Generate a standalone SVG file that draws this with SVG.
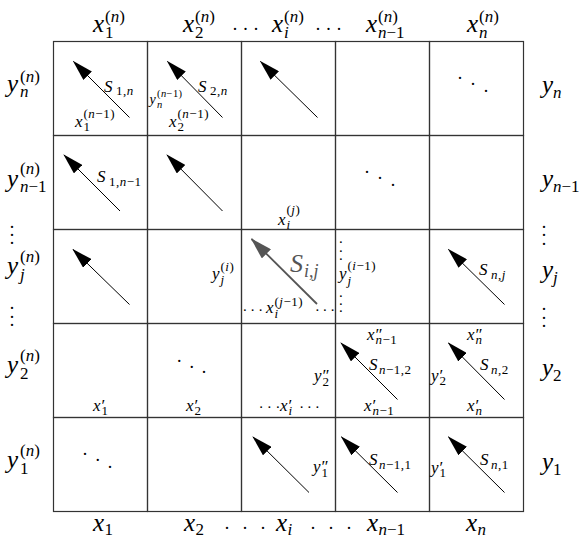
<svg xmlns="http://www.w3.org/2000/svg" width="584" height="539" viewBox="0 0 584 539" font-family="Liberation Serif, Times New Roman, serif">
<style>
text{fill:#000;font-family:"Liberation Serif","Times New Roman",serif}
.i{font-style:italic}
.M{font-size:25px}
.Ms{font-size:17px}
.C{font-size:17px}
.Cs{font-size:13px;letter-spacing:0.5px}
.Ct{font-size:14px}
.Cts{font-size:10.5px;letter-spacing:0.4px}
.B{font-size:26px;fill:#555}
.Bs{font-size:18px;fill:#555}
.d{font-size:18px}
.ds{font-size:15px}
.cell{fill:none;stroke:#333;stroke-width:1.2}
.arr{stroke:#000;stroke-width:1;fill:none;marker-end:url(#ah)}
.arrg{stroke:#555;stroke-width:1.8;fill:none;marker-end:url(#ahg)}
</style>
<defs>
<marker id="ah" markerUnits="userSpaceOnUse" viewBox="0 0 21 12" refX="20" refY="6" markerWidth="21" markerHeight="12" orient="auto"><path d="M0,0 L21,6 L0,12 Z" fill="#000"/></marker>
<marker id="ahg" markerUnits="userSpaceOnUse" viewBox="0 0 22 13" refX="21" refY="6.5" markerWidth="22" markerHeight="13" orient="auto"><path d="M0,0 L22,6.5 L0,13 Z" fill="#555"/></marker>
</defs>

<g id="col-labels-top">
<text class="M"><tspan class="i" x="93" y="32">x</tspan><tspan class="Ms" x="105" y="22">(<tspan class="i">n</tspan>)</tspan><tspan class="Ms" x="105" y="38">1</tspan></text>
<text class="M"><tspan class="i" x="183" y="32">x</tspan><tspan class="Ms" x="195" y="22">(<tspan class="i">n</tspan>)</tspan><tspan class="Ms" x="195" y="38">2</tspan></text>
<text class="d" x="232.75 243.25 253.75" y="29.8">...</text>
<text class="M"><tspan class="i" x="272" y="32">x</tspan><tspan class="Ms" x="284" y="22">(<tspan class="i">n</tspan>)</tspan><tspan class="Ms i" x="284" y="38">i</tspan></text>
<text class="d" x="315.75 326.25 336.75" y="29.8">...</text>
<text class="M"><tspan class="i" x="366" y="32">x</tspan><tspan class="Ms" x="378" y="22">(<tspan class="i">n</tspan>)</tspan><tspan class="Ms" x="378" y="38"><tspan class="i">n</tspan>−1</tspan></text>
<text class="M"><tspan class="i" x="467" y="32">x</tspan><tspan class="Ms" x="479" y="22">(<tspan class="i">n</tspan>)</tspan><tspan class="Ms i" x="479" y="38">n</tspan></text>
</g>

<g id="row-labels-left">
<text class="M"><tspan class="i" x="7" y="92">y</tspan><tspan class="Ms" x="20" y="82">(<tspan class="i">n</tspan>)</tspan><tspan class="Ms i" x="20" y="97">n</tspan></text>
<text class="M"><tspan class="i" x="7" y="187">y</tspan><tspan class="Ms" x="20" y="174">(<tspan class="i">n</tspan>)</tspan><tspan class="Ms" x="20" y="192"><tspan class="i">n</tspan>−1</tspan></text>
<text class="d" x="9.75 9.75 9.75" y="227.8 235.8 243.8">...</text>
<text class="M"><tspan class="i" x="7" y="274">y</tspan><tspan class="Ms" x="20" y="262">(<tspan class="i">n</tspan>)</tspan><tspan class="Ms i" x="20" y="280">j</tspan></text>
<text class="d" x="9.75 9.75 9.75" y="308.8 317.8 325.8">...</text>
<text class="M"><tspan class="i" x="7" y="373">y</tspan><tspan class="Ms" x="20" y="361">(<tspan class="i">n</tspan>)</tspan><tspan class="Ms" x="20" y="379">2</tspan></text>
<text class="M"><tspan class="i" x="7" y="468">y</tspan><tspan class="Ms" x="20" y="456">(<tspan class="i">n</tspan>)</tspan><tspan class="Ms" x="20" y="474">1</tspan></text>
</g>

<g id="row-labels-right">
<text class="M"><tspan class="i" x="542" y="93">y</tspan><tspan class="Ms i" x="553" y="98">n</tspan></text>
<text class="M"><tspan class="i" x="542" y="187">y</tspan><tspan class="Ms" x="553" y="192"><tspan class="i">n</tspan>−1</tspan></text>
<text class="d" x="541.75 541.75 541.75" y="227.8 235.8 244.8">...</text>
<text class="M"><tspan class="i" x="542" y="278">y</tspan><tspan class="Ms i" x="553" y="283">j</tspan></text>
<text class="d" x="541.75 541.75 541.75" y="309.8 318.8 326.8">...</text>
<text class="M"><tspan class="i" x="542" y="376">y</tspan><tspan class="Ms" x="553" y="381">2</tspan></text>
<text class="M"><tspan class="i" x="542" y="470">y</tspan><tspan class="Ms" x="553" y="475">1</tspan></text>
</g>

<g id="col-labels-bottom">
<text class="M"><tspan class="i" x="93" y="531">x</tspan><tspan class="Ms" x="104.5" y="535">1</tspan></text>
<text class="M"><tspan class="i" x="184" y="531">x</tspan><tspan class="Ms" x="195.5" y="535">2</tspan></text>
<text class="d" x="224.75 242.75 260.75" y="528.8">...</text>
<text class="M"><tspan class="i" x="276" y="531">x</tspan><tspan class="Ms i" x="287.5" y="535">i</tspan></text>
<text class="d" x="310.75 328.75 346.75" y="528.8">...</text>
<text class="M"><tspan class="i" x="367" y="531">x</tspan><tspan class="Ms" x="378.5" y="535"><tspan class="i">n</tspan>−1</tspan></text>
<text class="M"><tspan class="i" x="466" y="531">x</tspan><tspan class="Ms i" x="477.5" y="535">n</tspan></text>
</g>

<!-- row 1 (y_n) -->
<g id="cell-1-n">
<rect class="cell" x="53.5" y="41.5" width="94" height="94"/>
<text class="C"><tspan class="i" x="104" y="92">S</tspan><tspan class="Cs" x="116" y="95">1,<tspan class="i">n</tspan></tspan></text>
<text class="C"><tspan class="i" x="75" y="127">x</tspan><tspan class="Cs" x="83.5" y="118">(<tspan class="i">n</tspan>−1)</tspan><tspan class="Cs" x="83.5" y="131">1</tspan></text>
</g>
<g id="cell-2-n">
<rect class="cell" x="147.5" y="41.5" width="94" height="94"/>
<text class="C"><tspan class="i" x="198" y="92">S</tspan><tspan class="Cs" x="210" y="95">2,<tspan class="i">n</tspan></tspan></text>
<text class="Ct"><tspan class="i" x="149.5" y="104">y</tspan><tspan class="Cts" x="157" y="97">(<tspan class="i">n</tspan>−1)</tspan><tspan class="Cts i" x="157" y="108">n</tspan></text>
<text class="C"><tspan class="i" x="169" y="127">x</tspan><tspan class="Cs" x="177.5" y="118">(<tspan class="i">n</tspan>−1)</tspan><tspan class="Cs" x="177.5" y="131">2</tspan></text>
</g>
<g id="cell-i-n"><rect class="cell" x="241.5" y="41.5" width="94" height="94"/></g>
<g id="cell-n1-n"><rect class="cell" x="335.5" y="41.5" width="94" height="94"/></g>
<g id="cell-n-n">
<rect class="cell" x="429.5" y="41.5" width="94" height="94"/>
<text class="d" x="457.75 470.75 483.75" y="78.8 84.8 91.8">...</text>
</g>

<!-- row 2 (y_{n-1}) -->
<g id="cell-1-n1">
<rect class="cell" x="53.5" y="135.5" width="94" height="94"/>
<text class="C"><tspan class="i" x="97" y="182">S</tspan><tspan class="Cs" x="109" y="186">1,<tspan class="i">n</tspan>−1</tspan></text>
</g>
<g id="cell-2-n1"><rect class="cell" x="147.5" y="135.5" width="94" height="94"/></g>
<g id="cell-i-n1">
<rect class="cell" x="241.5" y="135.5" width="94" height="94"/>
<text class="C"><tspan class="i" x="278" y="225">x</tspan><tspan class="Cs" x="286.5" y="214">(<tspan class="i">j</tspan>)</tspan><tspan class="Cs i" x="286.5" y="229">i</tspan></text>
</g>
<g id="cell-n1-n1">
<rect class="cell" x="335.5" y="135.5" width="94" height="94"/>
<text class="d" x="364.75 377.75 390.75" y="172.8 179.3 185.8">...</text>
</g>
<g id="cell-n-n1"><rect class="cell" x="429.5" y="135.5" width="94" height="94"/></g>

<!-- row 3 (y_j) -->
<g id="cell-1-j"><rect class="cell" x="53.5" y="229.5" width="94" height="94"/></g>
<g id="cell-2-j">
<rect class="cell" x="147.5" y="229.5" width="94" height="94"/>
<text class="C"><tspan class="i" x="212" y="279">y</tspan><tspan class="Cs" x="220.5" y="271">(<tspan class="i">i</tspan>)</tspan><tspan class="Cs i" x="220.5" y="284">j</tspan></text>
</g>
<g id="cell-i-j">
<rect class="cell" x="241.5" y="229.5" width="94" height="94"/>
<text class="B"><tspan class="i" x="290" y="272">S</tspan><tspan class="Bs" x="304" y="277"><tspan class="i">i</tspan>,<tspan class="i">j</tspan></tspan></text>
<text class="ds" x="243.1 250.8 258.8" y="311.4">...</text>
<text class="C"><tspan class="i" x="266" y="313">x</tspan><tspan class="Cs" x="274.5" y="306">(<tspan class="i">j</tspan>−1)</tspan><tspan class="Cs i" x="274.5" y="318">i</tspan></text>
<text class="ds" x="315.4 323.1 330.8" y="311.4">...</text>
<text class="ds" x="339.1 339.1 339.1 339.1 339.1 339.1" y="243.4 251.7 260 297.4 304.7 312.4">......</text>
<text class="C"><tspan class="i" x="339" y="279">y</tspan><tspan class="Cs" x="347.5" y="270">(<tspan class="i">i</tspan>−1)</tspan><tspan class="Cs i" x="347.5" y="285">j</tspan></text>
</g>
<g id="cell-n1-j"><rect class="cell" x="335.5" y="229.5" width="94" height="94"/></g>
<g id="cell-n-j">
<rect class="cell" x="429.5" y="229.5" width="94" height="94"/>
<text class="C"><tspan class="i" x="479" y="275">S</tspan><tspan class="Cs" x="491" y="279"><tspan class="i">n</tspan>,<tspan class="i">j</tspan></tspan></text>
</g>

<!-- row 4 (y_2) -->
<g id="cell-1-2">
<rect class="cell" x="53.5" y="323.5" width="94" height="94"/>
<text class="C"><tspan class="i" x="93" y="411">x</tspan><tspan x="101.5" y="411">′</tspan><tspan class="Cs" x="101.5" y="415">1</tspan></text>
</g>
<g id="cell-2-2">
<rect class="cell" x="147.5" y="323.5" width="94" height="94"/>
<text class="d" x="177 189.5 201.75" y="361.5 367.5 373.1">...</text>
<text class="C"><tspan class="i" x="186" y="411">x</tspan><tspan x="194.5" y="411">′</tspan><tspan class="Cs" x="194.5" y="415">2</tspan></text>
</g>
<g id="cell-i-2">
<rect class="cell" x="241.5" y="323.5" width="94" height="94"/>
<text class="ds" x="259.3 267.6 275.9" y="408">...</text>
<text class="C"><tspan class="i" x="280" y="411">x</tspan><tspan x="288.5" y="411">′</tspan><tspan class="Cs i" x="288.5" y="415">i</tspan></text>
<text class="ds" x="299.8 307.4 315.4" y="407.7">...</text>
<text class="C"><tspan class="i" x="314" y="381">y</tspan><tspan x="322.5" y="381">″</tspan><tspan class="Cs" x="322.5" y="386">2</tspan></text>
</g>
<g id="cell-n1-2">
<rect class="cell" x="335.5" y="323.5" width="94" height="94"/>
<text class="C"><tspan class="i" x="367" y="340">x</tspan><tspan x="375.5" y="340">″</tspan><tspan class="Cs" x="375.5" y="344"><tspan class="i">n</tspan>−1</tspan></text>
<text class="C"><tspan class="i" x="369" y="370">S</tspan><tspan class="Cs" x="379" y="374"><tspan class="i">n</tspan>−1,2</tspan></text>
<text class="C"><tspan class="i" x="364" y="411">x</tspan><tspan x="372.5" y="411">′</tspan><tspan class="Cs" x="372.5" y="415"><tspan class="i">n</tspan>−1</tspan></text>
</g>
<g id="cell-n-2">
<rect class="cell" x="429.5" y="323.5" width="94" height="94"/>
<text class="C"><tspan class="i" x="431" y="381">y</tspan><tspan x="439.5" y="381">′</tspan><tspan class="Cs" x="439.5" y="385">2</tspan></text>
<text class="C"><tspan class="i" x="467" y="340">x</tspan><tspan x="475.5" y="340">″</tspan><tspan class="Cs i" x="475.5" y="344">n</tspan></text>
<text class="C"><tspan class="i" x="480" y="370">S</tspan><tspan class="Cs" x="491" y="374"><tspan class="i">n</tspan>,2</tspan></text>
<text class="C"><tspan class="i" x="467" y="411">x</tspan><tspan x="475.5" y="411">′</tspan><tspan class="Cs i" x="475.5" y="415">n</tspan></text>
</g>

<!-- row 5 (y_1) -->
<g id="cell-1-1">
<rect class="cell" x="53.5" y="417.5" width="94" height="94"/>
<text class="d" x="82.75 95.5 107.75" y="454.8 461.1 467.5">...</text>
</g>
<g id="cell-2-1"><rect class="cell" x="147.5" y="417.5" width="94" height="94"/></g>
<g id="cell-i-1">
<rect class="cell" x="241.5" y="417.5" width="94" height="94"/>
<text class="C"><tspan class="i" x="313" y="472">y</tspan><tspan x="321.5" y="472">″</tspan><tspan class="Cs" x="321.5" y="477">1</tspan></text>
</g>
<g id="cell-n1-1">
<rect class="cell" x="335.5" y="417.5" width="94" height="94"/>
<text class="C"><tspan class="i" x="369" y="465">S</tspan><tspan class="Cs" x="379" y="469"><tspan class="i">n</tspan>−1,1</tspan></text>
</g>
<g id="cell-n-1">
<rect class="cell" x="429.5" y="417.5" width="94" height="94"/>
<text class="C"><tspan class="i" x="431" y="473">y</tspan><tspan x="439.5" y="473">′</tspan><tspan class="Cs" x="439.5" y="477">1</tspan></text>
<text class="C"><tspan class="i" x="480" y="465">S</tspan><tspan class="Cs" x="491" y="469"><tspan class="i">n</tspan>,1</tspan></text>
</g>

<g id="connectors">
<line class="arr" x1="129.5" y1="117.5" x2="73.5" y2="61.5"/>
<line class="arr" x1="222.5" y1="117.5" x2="167.5" y2="61.5"/>
<line class="arr" x1="317.5" y1="117.5" x2="260.5" y2="61.5"/>
<line class="arr" x1="120" y1="211" x2="64" y2="155"/>
<line class="arr" x1="222.5" y1="211" x2="167" y2="155"/>
<line class="arr" x1="129.5" y1="304.5" x2="73" y2="249.5"/>
<line class="arrg" x1="317" y1="304" x2="251.5" y2="239"/>
<line class="arr" x1="504.5" y1="304.5" x2="448.5" y2="249.5"/>
<line class="arr" x1="397.5" y1="399.5" x2="341" y2="343"/>
<line class="arr" x1="504.5" y1="399.5" x2="448.5" y2="343"/>
<line class="arr" x1="309" y1="492.5" x2="253" y2="437"/>
<line class="arr" x1="397.5" y1="492.5" x2="341.5" y2="437"/>
<line class="arr" x1="504.5" y1="492.5" x2="448.5" y2="437"/>
</g>
</svg>
